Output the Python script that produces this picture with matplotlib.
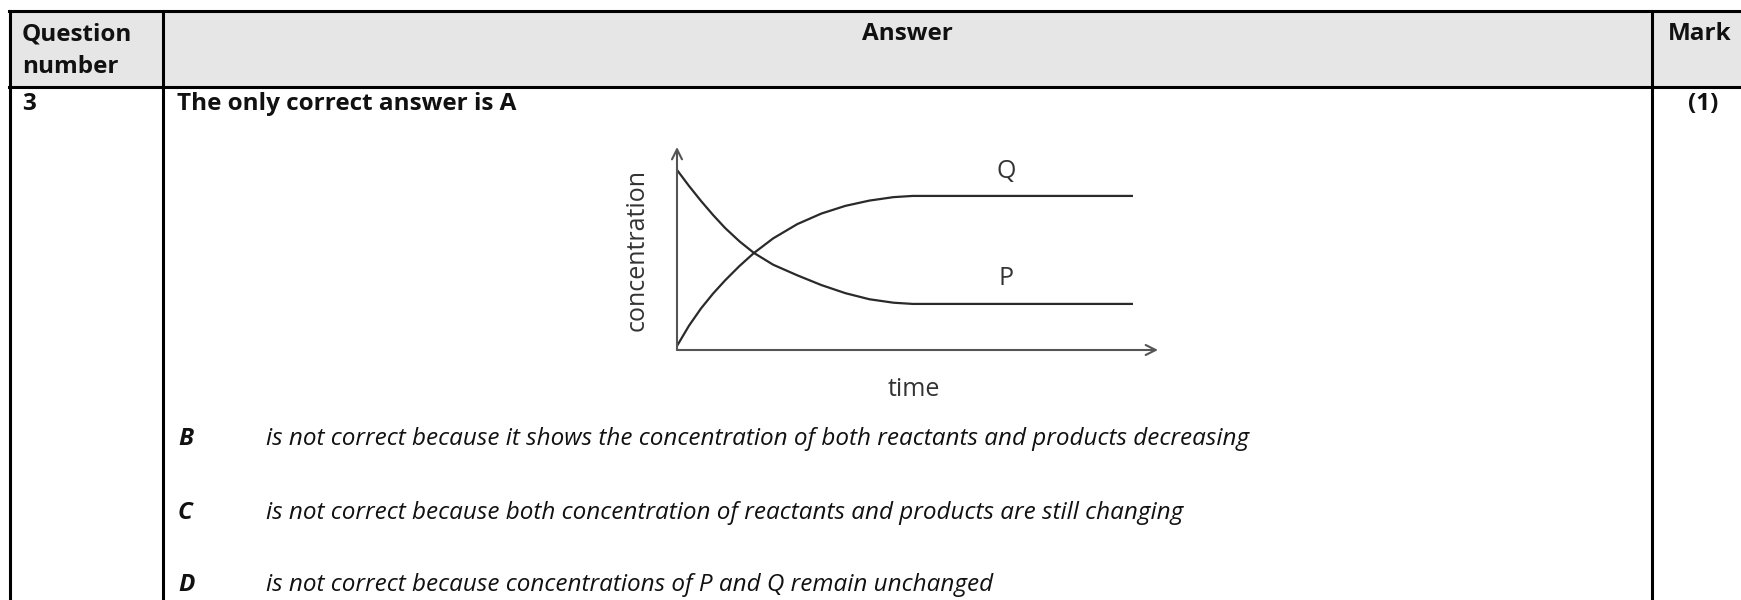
import matplotlib.pyplot as plt

# curve readings (time, concentration), arbitrary units
time_p = [0.0, 0.25, 0.5, 0.75, 1.0, 1.3, 1.6, 2.0, 2.5, 3.0, 3.5, 4.0, 4.5, 4.9, 9.48]
conc_p = [8.87, 8.08, 7.34, 6.65, 6.01, 5.35, 4.78, 4.2, 3.68, 3.2, 2.8, 2.5, 2.33, 2.27, 2.27]
time_q = [0.0, 0.25, 0.5, 0.75, 1.0, 1.3, 1.6, 2.0, 2.5, 3.0, 3.5, 4.0, 4.5, 4.9, 9.48]
conc_q = [0.2, 1.2, 2.05, 2.78, 3.43, 4.14, 4.78, 5.5, 6.2, 6.72, 7.1, 7.36, 7.53, 7.59, 7.59]

header = ["Question", "number", "Answer", "Mark"]
question = "3"
answer_line = "The only correct answer is A"
mark = "(1)"
options = ["B", "C", "D"]
reasons = [
    "is not correct because it shows the concentration of both reactants and products decreasing",
    "is not correct because both concentration of reactants and products are still changing",
    "is not correct because concentrations of P and Q remain unchanged",
]

W, H = 1741, 600
FONT = "Open Sans"
INK = "#111111"


def main():
    fig = plt.figure(figsize=(W / 100, H / 100), dpi=100)
    ax = fig.add_axes([0, 0, 1, 1])
    ax.set_xlim(0, W)
    ax.set_ylim(H, 0)
    ax.axis("off")

    # table frame
    ax.fill_between([9, W], 11, 87, color="#e6e6e6", zorder=0)
    lw = 2.2
    ax.plot([9, W], [11, 11], color="black", lw=lw)
    ax.plot([9, W], [87, 87], color="black", lw=lw)
    for x in [9.5, 163, 1652]:
        ax.plot([x, x], [11, H], color="black", lw=lw)

    bold = dict(family=FONT, fontweight="bold", fontsize=17.5, color=INK,
                va="baseline")
    ax.text(22, 40, header[0], ha="left", **bold)
    ax.text(22, 73, header[1], ha="left", **bold)
    ax.text(907, 40, header[2], ha="center", **bold)
    ax.text(1668, 40, header[3], ha="left", **bold)
    ax.text(22, 110, question, ha="left", **bold)
    ax.text(177, 110, answer_line, ha="left", **bold)
    ax.text(1703, 110, mark, ha="center", **bold)

    rows_y = [445, 519, 591]
    for y, letter, reason in zip(rows_y, options, reasons):
        ax.text(178, y, letter, ha="left", va="baseline", family=FONT,
                fontweight="bold", style="italic", fontsize=17.5, color=INK)
        ax.text(266, y, reason, ha="left", va="baseline", family=FONT,
                style="italic", fontsize=17.5, color=INK)

    # embedded graph
    x0, y0, x1, y1 = 677, 350, 1158, 147
    g = fig.add_axes([x0 / W, 1 - y0 / H, (x1 - x0) / W, (y0 - y1) / H])
    g.set_xlim(0, 10)
    g.set_ylim(0, 10)
    g.axis("off")
    for t, c in [(time_p, conc_p), (time_q, conc_q)]:
        g.plot(t, c, color="#2a2a2a", lw=1.6, solid_joinstyle="round",
               solid_capstyle="butt")
    arrow = dict(arrowstyle="->", color="#555555", lw=1.5, mutation_scale=18,
                 shrinkA=0, shrinkB=0)
    g.annotate("", xy=(10, 0), xytext=(0, 0), arrowprops=arrow, annotation_clip=False)
    g.annotate("", xy=(0, 10), xytext=(0, 0), arrowprops=arrow, annotation_clip=False)
    lab = dict(family=FONT, fontsize=18, color="#333333", ha="center", va="center")
    g.text(6.85, 8.8, "Q", **lab)
    g.text(6.85, 3.5, "P", **lab)

    ax.text(914, 390, "time", **lab)
    ax.text(637, 250, "concentration", rotation=90, **lab)

    fig.savefig("out.png", dpi=100)


if __name__ == "__main__":
    main()
